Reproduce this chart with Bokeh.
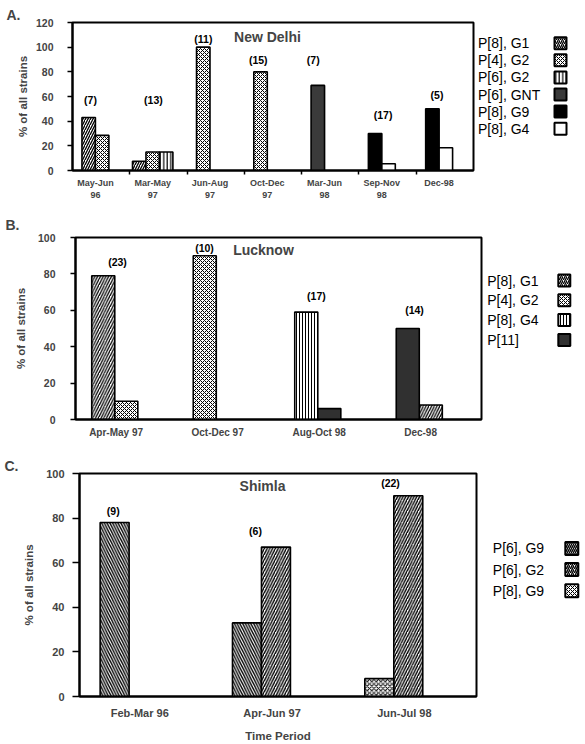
from bokeh.plotting import figure
from bokeh.layouts import column, row
from bokeh.models import Range1d, FixedTicker, Label
from bokeh.core.properties import value
from bokeh.embed import file_html
from bokeh.resources import INLINE

FONT = "Liberation Sans"

# ---------------- Panel A: New Delhi ----------------
A_categories = ["May-Jun\n96", "Mar-May\n97", "Jun-Aug\n97", "Oct-Dec\n97",
                "Mar-Jun\n98", "Sep-Nov\n98", "Dec-98"]
A_counts = ["(7)", "(13)", "(11)", "(15)", "(7)", "(17)", "(5)"]
A_bar1_type = ["P[8], G1", "P[8], G1", "P[4], G2", "P[4], G2", "P[6], GNT", "P[8], G9", "P[8], G9"]
A_bar1_pct = [43, 7.5, 100, 80, 69, 30, 50]
A_bar2_type = ["P[4], G2", "P[4], G2", "", "", "", "P[8], G4", "P[8], G4"]
A_bar2_pct = [28.5, 15, 0, 0, 0, 5.5, 18.5]
A_bar3_type = ["", "P[6], G2", "", "", "", "", ""]
A_bar3_pct = [0, 15, 0, 0, 0, 0, 0]
A_legend = ["P[8], G1", "P[4], G2", "P[6], G2", "P[6], GNT", "P[8], G9", "P[8], G4"]
A_yticks = [0, 20, 40, 60, 80, 100, 120]

# ---------------- Panel B: Lucknow ----------------
B_categories = ["Apr-May 97", "Oct-Dec 97", "Aug-Oct 98", "Dec-98"]
B_counts = ["(23)", "(10)", "(17)", "(14)"]
B_bar1_type = ["P[8], G1", "P[4], G2", "P[8], G4", "P[11]"]
B_bar1_pct = [79, 90, 59, 50]
B_bar2_type = ["P[4], G2", "", "P[11]", "P[8], G1"]
B_bar2_pct = [10, 0, 6, 8]
B_legend = ["P[8], G1", "P[4], G2", "P[8], G4", "P[11]"]
B_yticks = [0, 20, 40, 60, 80, 100]

# ---------------- Panel C: Shimla ----------------
C_categories = ["Feb-Mar 96", "Apr-Jun 97", "Jun-Jul 98"]
C_counts = ["(9)", "(6)", "(22)"]
C_bar1_type = ["P[6], G9", "P[6], G9", "P[8], G9"]
C_bar1_pct = [78, 33, 8]
C_bar2_type = ["", "P[6], G2", "P[6], G2"]
C_bar2_pct = [0, 67, 90]
C_legend = ["P[6], G9", "P[6], G2", "P[8], G9"]
C_yticks = [0, 20, 40, 60, 80, 100]

# ---------------- styles ----------------
A_styles = {
    "P[8], G1": dict(fill_color="white", hatch_pattern="/", hatch_scale=5, hatch_weight=1.3),
    "P[4], G2": dict(fill_color="white", hatch_pattern="x", hatch_scale=4, hatch_weight=1),
    "P[6], G2": dict(fill_color="white", hatch_pattern="|", hatch_scale=3.5, hatch_weight=1.2),
    "P[6], GNT": dict(fill_color="#3a3a3a"),
    "P[8], G9": dict(fill_color="black"),
    "P[8], G4": dict(fill_color="white"),
}
B_styles = {
    "P[8], G1": dict(fill_color="white", hatch_pattern="/", hatch_scale=5.5, hatch_weight=1.3),
    "P[4], G2": dict(fill_color="white", hatch_pattern="x", hatch_scale=4, hatch_weight=1),
    "P[8], G4": dict(fill_color="white", hatch_pattern="|", hatch_scale=3, hatch_weight=1),
    "P[11]": dict(fill_color="#303030"),
}
C_styles = {
    "P[6], G9": dict(fill_color="white", hatch_pattern="\\", hatch_scale=5.5, hatch_weight=1.4),
    "P[6], G2": dict(fill_color="white", hatch_pattern="/", hatch_scale=5.5, hatch_weight=1.4),
    "P[8], G9": dict(fill_color="white", hatch_pattern="x", hatch_scale=4.5, hatch_weight=1),
}

# ---------------- layout geometry ----------------
gA = dict(w=476, h=208, bl=72, br=3, bt=22, bb=38, ymax=120, ls=0.40, gd=0.0, bw=0.235,
          ytick_fs="10.5px", xtick_fs="9px", ystand=14, ytick_out=5, ylab_stand=4, xstand=3,
          minor=[k - 0.40 for k in range(1, 7)],
          count_x=[-0.086, 1.012, 1.884, 2.843, 3.802, 5.022, 5.963],
          count_y=[56.8, 56.8, 106.8, 89.8, 89.8, 44.6, 61.4],
          title="New Delhi", title_xy=(3.004, 107.9),
          letter="A.", letter_off=-66, letter_standoff=0)
gB = dict(w=483, h=237, bl=75, br=2, bt=29, bb=26, ymax=100, ls=0.40, gd=-0.013, bw=0.227,
          ytick_fs="10.5px", xtick_fs="10px", ystand=15, ytick_out=5, ylab_stand=8, xstand=7,
          minor=[],
          count_x=[0.014, 0.871, 1.974, 2.94],
          count_y=[86.4, 94.5, 67.6, 59.9],
          title="Lucknow", title_xy=(1.452, 92.9),
          letter="B.", letter_off=-70, letter_standoff=10)
gC = dict(w=478, h=299, bl=79, br=2, bt=28, bb=47, ymax=100, ls=0.455, gd=-0.08, bw=0.219,
          ytick_fs="11px", xtick_fs="11px", ystand=8, ytick_out=7, ylab_stand=8, xstand=10,
          minor=[],
          count_x=[-0.2, 0.875, 1.895],
          count_y=[83.2, 74.2, 95.7],
          title="Shimla", title_xy=(0.928, 94.3),
          letter="C.", letter_off=-75, letter_standoff=0,
          xlabel="Time Period")


def make_main(cats, counts, types, pcts, yticks, styles, g):
    n = len(cats)
    p = figure(width=g["w"], height=g["h"], min_border_left=g["bl"], min_border_right=g["br"],
               min_border_top=g["bt"], min_border_bottom=g["bb"],
               x_range=Range1d(-g["ls"], n - g["ls"]), y_range=Range1d(0, g["ymax"]),
               toolbar_location=None, output_backend="svg")
    p.xgrid.visible = False
    p.ygrid.visible = False
    p.outline_line_color = "black"
    p.outline_line_width = 2
    p.background_fill_color = "white"

    # panel letter as the plot title, pushed to the left edge of the canvas
    p.title.text = g["letter"]
    p.title.align = "left"
    p.title.offset = g["letter_off"]
    p.title.standoff = g["letter_standoff"]
    p.title.text_font = FONT
    p.title.text_font_style = "bold"
    p.title.text_font_size = "14px"

    groups = {}
    for i in range(n):
        present = [(t[i], v[i]) for t, v in zip(types, pcts) if t[i]]
        nslots = max(len(present), 2)
        for k, (name, val) in enumerate(present):
            x = i + g["gd"] + (k - (nslots - 1) / 2) * g["bw"]
            groups.setdefault(name, ([], []))
            groups[name][0].append(x)
            groups[name][1].append(val)
    for name, (xs, tops) in groups.items():
        p.vbar(x=xs, top=tops, bottom=0, width=g["bw"], line_color="black",
               line_width=1.6, **styles[name])

    p.text(x=g["count_x"], y=g["count_y"], text=counts, text_font=value(FONT),
           text_font_style="bold", text_font_size="10.5px", text_align="center",
           text_baseline="middle", text_color="black")

    p.add_layout(Label(x=g["title_xy"][0], y=g["title_xy"][1], text=g["title"],
                       text_font=FONT, text_font_style="bold", text_font_size="14px",
                       text_align="center", text_baseline="middle"))

    yax = p.yaxis[0]
    yax.ticker = FixedTicker(ticks=yticks)
    yax.axis_label = "% of all strains"
    yax.axis_label_text_font = FONT
    yax.axis_label_text_font_style = "bold"
    yax.axis_label_text_font_size = "11.5px"
    yax.axis_label_standoff = g["ylab_stand"]
    yax.major_label_text_font = FONT
    yax.major_label_text_font_style = "bold"
    yax.major_label_text_font_size = g["ytick_fs"]
    yax.major_label_standoff = g["ystand"]
    yax.major_tick_out = g["ytick_out"]
    yax.major_tick_in = 0
    yax.minor_tick_out = 0
    yax.minor_tick_in = 0
    yax.axis_line_width = 2
    yax.major_tick_line_width = 1.5

    xax = p.xaxis[0]
    xax.ticker = FixedTicker(ticks=list(range(n)), minor_ticks=g["minor"])
    xax.major_label_overrides = {i: cats[i] for i in range(n)}
    xax.major_label_text_font = FONT
    xax.major_label_text_font_style = "bold"
    xax.major_label_text_font_size = g["xtick_fs"]
    xax.major_label_standoff = g["xstand"]
    xax.major_tick_out = 0
    xax.major_tick_in = 0
    xax.minor_tick_out = 4
    xax.minor_tick_in = 0
    xax.minor_tick_line_width = 1.5
    xax.axis_line_width = 2
    if "xlabel" in g:
        xax.axis_label = g["xlabel"]
        xax.axis_label_text_font = FONT
        xax.axis_label_text_font_style = "bold"
        xax.axis_label_text_font_size = "11.5px"
        xax.axis_label_standoff = 8
    return p


def make_legend(names, styles, W, g, text_x, sw_cx, y0, dy, size):
    # the legend canvas shares the main panel's top/bottom borders, so that its
    # frame is aligned with the main frame; y data units == canvas pixels from top
    H, bt, bb = g["h"], g["bt"], g["bb"]
    p = figure(width=W, height=H, x_range=Range1d(0, W), y_range=Range1d(H - bb, bt),
               toolbar_location=None, output_backend="svg",
               min_border_left=0, min_border_right=0,
               min_border_top=bt, min_border_bottom=bb,
               x_axis_location=None, y_axis_location=None)
    p.outline_line_color = None
    p.xgrid.visible = False
    p.ygrid.visible = False
    ys = [y0 + k * dy for k in range(len(names))]
    p.text(x=[text_x] * len(names), y=ys, text=names, text_font=value(FONT),
           text_font_size="14px", text_baseline="middle", text_align="left",
           text_color="black")
    for name, y in zip(names, ys):
        st = dict(styles[name])
        if "hatch_scale" in st:
            st["hatch_scale"] = min(st["hatch_scale"], 4)
        p.rect(x=[sw_cx], y=[y], width=size, height=size, line_color="black",
               line_width=2, **st)
    return p


figA = make_main(A_categories, A_counts, [A_bar1_type, A_bar2_type, A_bar3_type],
                 [A_bar1_pct, A_bar2_pct, A_bar3_pct], A_yticks, A_styles, gA)
legA = make_legend(A_legend, A_styles, 109, gA, 1.5, 84, 42.7, 17.1, 12)

figB = make_main(B_categories, B_counts, [B_bar1_type, B_bar2_type],
                 [B_bar1_pct, B_bar2_pct], B_yticks, B_styles, gB)
legB = make_legend(B_legend, B_styles, 102, gB, 3.7, 80.8, 72, 19.8, 12)

figC = make_main(C_categories, C_counts, [C_bar1_type, C_bar2_type],
                 [C_bar1_pct, C_bar2_pct], C_yticks, C_styles, gC)
legC = make_legend(C_legend, C_styles, 107, gC, 14.3, 93.3, 103.3, 21.2, 13)

page = column(row(figA, legA), row(figB, legB), row(figC, legC))

open("out.html", "w").write(file_html(page, INLINE))
